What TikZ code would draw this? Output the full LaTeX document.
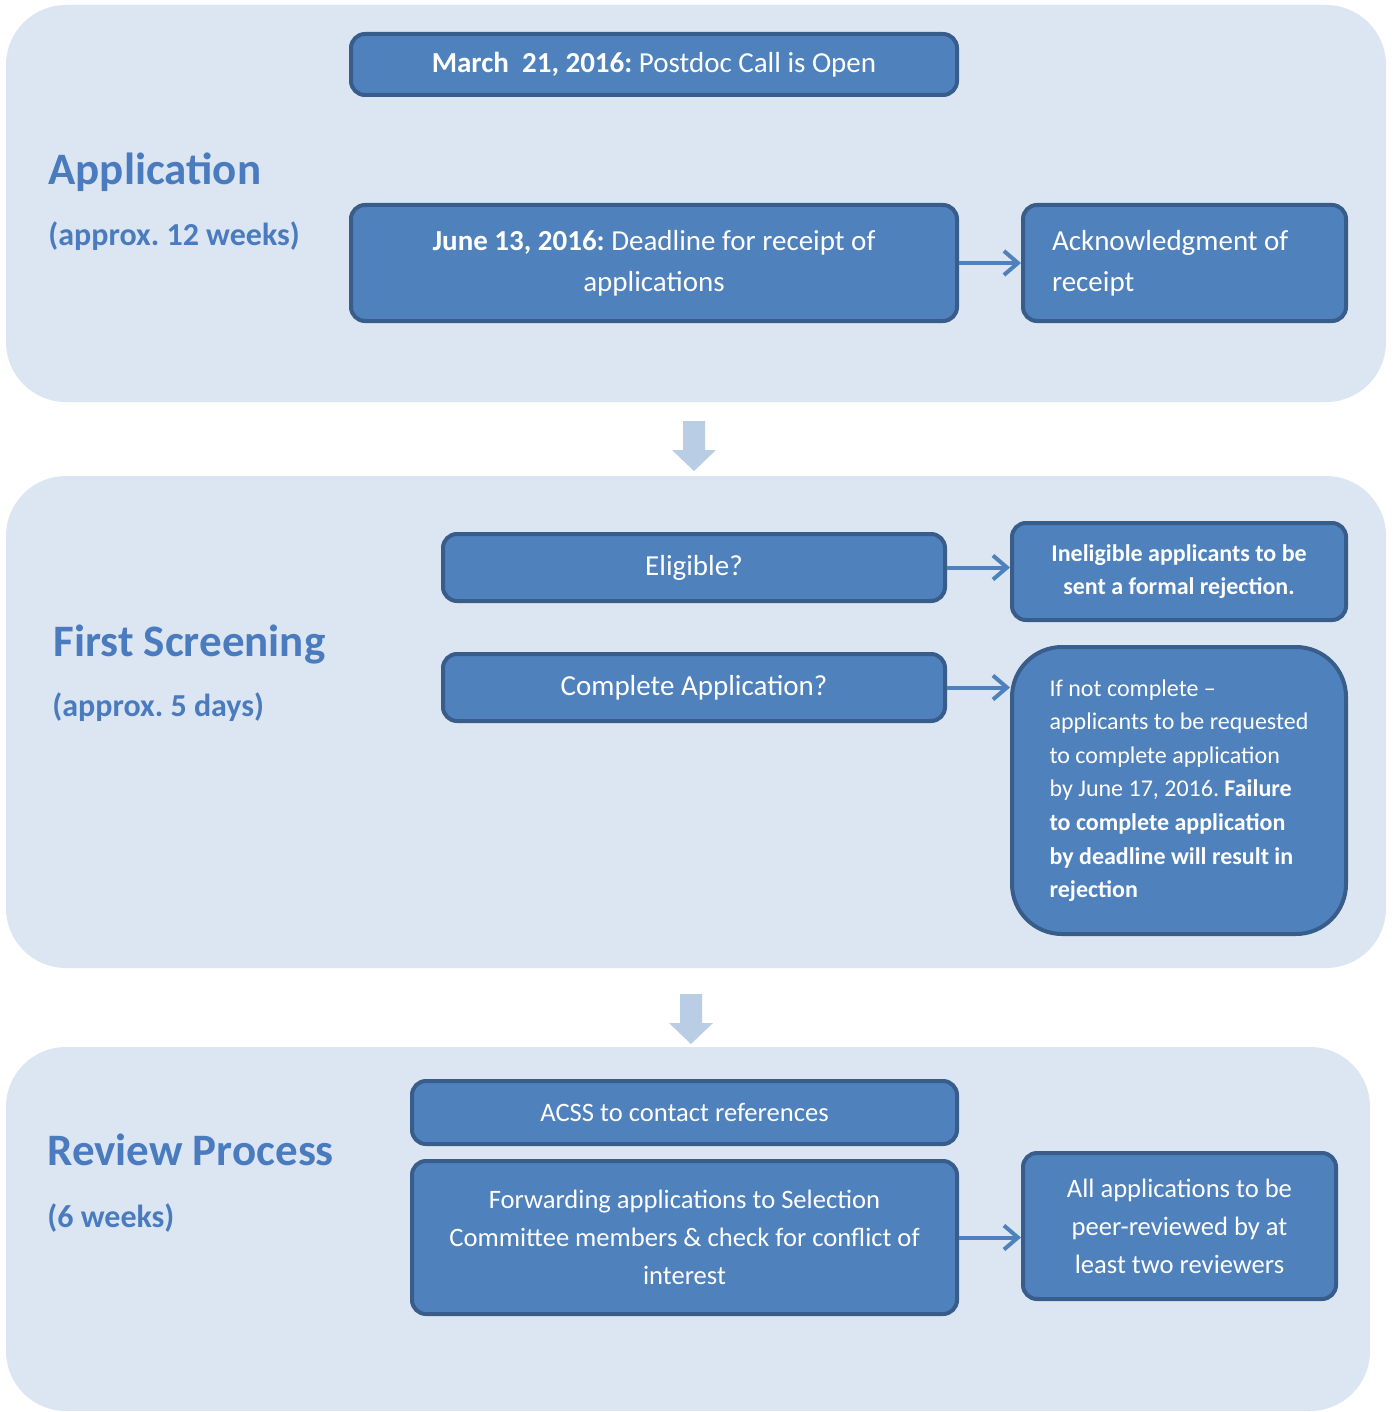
\documentclass[tikz,border=0pt]{standalone}
\usepackage{fontspec}
\setmainfont{Carlito}
\usetikzlibrary{calc,arrows.meta}
\definecolor{panelblue}{HTML}{DCE6F2}
\definecolor{boxblue}{HTML}{4F81BD}
\definecolor{boxedge}{HTML}{385D8A}
\definecolor{titleblue}{HTML}{4A7BBF}
\definecolor{downblue}{HTML}{B9CDE5}
\frenchspacing

\begin{document}
\begin{tikzpicture}[x=0.5pt,y=-0.5pt,
    panel/.style={fill=panelblue,rounded corners=30pt},
    stepbox/.style={draw=boxedge,fill=boxblue,line width=2pt,rounded corners=7pt,
        text=white,align=center,inner sep=0pt},
    bigtxt/.style={font=\fontsize{14.5}{20.5}\selectfont},
    midtxt/.style={font=\fontsize{13.3}{19}\selectfont},
    smalltxt/.style={font=\fontsize{12}{16.8}\selectfont},
    flow/.style={draw=boxblue,line width=2pt,-{Straight Barb[length=7pt,width=12pt]}},
    ttl/.style={anchor=base west,inner sep=0pt,text=titleblue,font=\fontsize{22.5}{27}\selectfont\bfseries},
    sub/.style={anchor=base west,inner sep=0pt,text=titleblue,font=\fontsize{16}{19}\selectfont\bfseries}]
        \useasboundingbox (0,0) rectangle (1393,1412);
        \fill[white] (0,0) rectangle (1393,1412);
        \fill[panel] (6,5) rectangle (1386,402);
        \fill[panel] (6,476) rectangle (1386,968);
        \fill[panel] (6,1047) rectangle (1370,1411);
        \foreach \cx/\ty in {694/421,691/994}
        \fill[downblue] (\cx-11,\ty) -- (\cx+11,\ty) -- (\cx+11,\ty+29) -- (\cx+22,\ty+29)
            -- (\cx,\ty+50) -- (\cx-22,\ty+29) -- (\cx-11,\ty+29) -- cycle;
        \node[ttl] (apptitle) at (48,185) {Application};
        \node[sub] (appweeks) at (48,245) {(approx. 12 weeks)};
        \node[ttl] (scrtitle) at (53,656) {First Screening};
        \node[sub] (scrdays) at (52,716) {(approx. 5 days)};
        \node[ttl] (revtitle) at (47,1165) {Review Process};
        \node[sub] (revweeks) at (47,1227) {(6 weeks)};
        \node[stepbox,bigtxt,minimum width=303pt,minimum height=30.5pt] (call) at (654,64.5)
            {\textbf{March\ \ 21, 2016:} Postdoc Call is Open};
        \node[stepbox,bigtxt,minimum width=303pt,minimum height=58pt] (deadline) at (654,263)
            {\textbf{June 13, 2016:} Deadline for receipt of\\applications};
        \node[stepbox,bigtxt,minimum width=161.5pt,minimum height=58pt,text width=132.5pt,align=flush left] (ack) at (1184.5,263)
            {Acknowledgment of\\receipt};
        \node[stepbox,bigtxt,minimum width=251pt,minimum height=33.5pt] (eligible) at (694,567.5) {Eligible?};
        \node[stepbox,smalltxt,minimum width=167pt,minimum height=48.5pt] (inelig) at (1179,571.5)
            {\textbf{Ineligible applicants to be}\\\textbf{sent a formal rejection.}};
        \node[stepbox,bigtxt,minimum width=251pt,minimum height=33.5pt] (complete) at (694,687.5) {Complete Application?};
        \node[stepbox,smalltxt,minimum width=167pt,minimum height=143.5pt,rounded corners=25pt,align=left] (incomplete) at (1179,790.5)
            {If not complete --\\applicants to be requested\\to complete application\\by June 17, 2016. \textbf{Failure}\\
            \textbf{to complete application}\\\textbf{by deadline will result in}\\\textbf{rejection}};
        \node[stepbox,midtxt,minimum width=272.5pt,minimum height=31.5pt] (acss) at (684.5,1112.5) {ACSS to contact references};
        \node[stepbox,midtxt,minimum width=272.5pt,minimum height=76.5pt] (forward) at (684.5,1237.5)
            {Forwarding applications to Selection\\Committee members \& check for conflict of\\interest};
        \node[stepbox,midtxt,minimum width=156.5pt,minimum height=73pt] (review) at (1179.5,1226)
            {All applications to be\\peer-reviewed by at\\least two reviewers};
        \draw[flow] (deadline.east) -- (ack.west);
        \draw[flow] (eligible.east) -- (eligible.east -| inelig.west);
        \draw[flow] (complete.east) -- (complete.east -| incomplete.west);
        \draw[flow] (forward.east) -- (forward.east -| review.west);
    \end{tikzpicture}
\end{document}
